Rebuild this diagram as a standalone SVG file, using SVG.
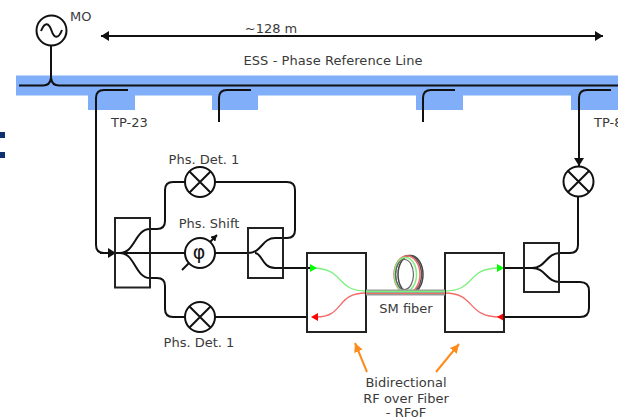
<svg xmlns="http://www.w3.org/2000/svg" width="618" height="419" viewBox="0 0 618 419">
<style>
text{font-family:"DejaVu Sans",sans-serif;font-size:13px;fill:#3a3a3a}
.l{fill:none;stroke:#111;stroke-width:2}
.b{fill:none;stroke:#222;stroke-width:2}
.c{fill:#fff;stroke:#111;stroke-width:2}
.bar{fill:#80aef8}
.g{fill:none;stroke:#7df07d;stroke-width:1.300}
.r{fill:none;stroke:#f46a6a;stroke-width:1.300}
.o{fill:none;stroke:#ff8c1a;stroke-width:2}
</style>
<defs>
<marker id="ak" markerUnits="userSpaceOnUse" markerWidth="9" markerHeight="10" refX="8" refY="5" orient="auto-start-reverse"><path d="M0 0L8 5L0 10Z" fill="#111"/></marker>
<marker id="as" markerUnits="userSpaceOnUse" markerWidth="7" markerHeight="7" refX="6" refY="3.500" orient="auto"><path d="M0 0L6 3.500L0 7Z" fill="#111"/></marker>
<marker id="ao" markerUnits="userSpaceOnUse" markerWidth="10" markerHeight="10" refX="9" refY="5" orient="auto"><path d="M0 0.500L9 5L0 9.500Z" fill="#ff8c1a"/></marker>
</defs>
<rect x="0" y="132" width="5" height="6" fill="#0f2f6e"/>
<rect x="0" y="152" width="5" height="6" fill="#0f2f6e"/>
<g id="phase-line"><rect class="bar" x="16" y="75.500" width="602" height="20"/><rect class="bar" x="88" y="95" width="47" height="15"/><rect class="bar" x="212" y="95" width="46" height="15"/><rect class="bar" x="416" y="95" width="47" height="15"/><rect class="bar" x="571" y="95" width="47" height="15"/><text x="333" y="65" text-anchor="middle" textLength="179">ESS - Phase Reference Line</text></g>
<g id="connectors">
<path class="l" d="M19 85.500H43Q50 85.500 51 78V45M51 78Q52 85.500 59 85.500H618"/>
<path class="l" marker-start="url(#ak)" marker-end="url(#ak)" d="M101 36H603"/>
<path class="l" d="M128 90H104Q96 90 96 98V245Q96 253 104 253"/>
<path class="l" marker-end="url(#ak)" d="M100 253H116"/>
<path class="l" d="M251 90H227Q219 90 219 98V122"/>
<path class="l" d="M455 90H431Q423 90 423 98V122"/>
<path class="l" marker-end="url(#ak)" d="M611 90H587Q579 90 579 98V166"/>
<path class="l" d="M115 253H185M215 253H248C262 253 262 238 275 238H287Q295 238 295 230V190Q295 182 287 182H215M185 182H173Q165 182 165 190V221Q165 229 157 229H150C135 229 135 253 120 253C135 253 135 278 150 278H157Q165 278 165 286V309Q165 317 173 317H185M215 317H307M255 253C262 253 262 268 275 268H310"/>
<path class="l" d="M504 268H532C546 268 546 253 560 253H570Q578 253 578 245V197M532 268C546 268 546 282 560 282H580Q589 282 589 291V308Q589 317 580 317H504"/>
<path class="g" d="M366 291C335 291 345 268 312 268"/>
<path d="M317 268L310 264V272Z" fill="#0f0"/>
<path class="r" d="M366 293C335 293 345 317 316 317"/>
<path d="M311 317L318 313V321Z" fill="#f00"/>
<path class="g" d="M445 291C476 291 466 268 499 268"/>
<path d="M504 268L497 264V272Z" fill="#0f0"/>
<path class="r" d="M445 293C476 293 466 317 500 317"/>
<path d="M497 317L504 313V321Z" fill="#f00"/>
<path class="o" marker-end="url(#ao)" d="M367 372L355 343"/>
<path class="o" marker-end="url(#ao)" d="M436 372L459 344"/>
</g>
<g id="mo"><circle class="c" cx="51.500" cy="30.500" r="15"/><path class="l" d="M41 31C45 21 49 23 51.500 30.500S58 40 62 30"/><text x="70" y="21">MO</text></g>
<g id="tp23"><text x="111" y="127">TP-23</text></g>
<g id="tp8"><text x="594" y="127">TP-8</text></g>
<g id="det-top"><circle class="c" cx="200" cy="182" r="15"/><path class="l" d="M189.500 171.500L210.500 192.500M189.500 192.500L210.500 171.500"/><text x="204" y="164" text-anchor="middle">Phs. Det. 1</text></g>
<g id="det-bottom"><circle class="c" cx="200" cy="317" r="15"/><path class="l" d="M189.500 306.500L210.500 327.500M189.500 327.500L210.500 306.500"/><text x="199" y="347" text-anchor="middle">Phs. Det. 1</text></g>
<g id="det-right"><circle class="c" cx="578.500" cy="181.500" r="15"/><path class="l" d="M568 171L589 192M568 192L589 171"/></g>
<g id="shift"><text x="209" y="228" text-anchor="middle">Phs. Shift</text><path class="l" marker-end="url(#as)" d="M182 270L217 235"/><circle class="c" cx="200" cy="253" r="15"/><text x="199" y="259" text-anchor="middle" style="font-size:19px;fill:#111">φ</text></g>
<g id="splitter-1"><rect class="b" x="115" y="218" width="35" height="69.500"/></g>
<g id="splitter-2"><rect class="b" x="248" y="228" width="35" height="50"/></g>
<g id="splitter-3"><rect class="b" x="524" y="243" width="35" height="49"/></g>
<g id="eo-left"><rect class="b" x="307" y="253" width="59" height="79"/></g>
<g id="eo-right"><rect class="b" x="445" y="253" width="59" height="79"/></g>
<g id="fiber">
<ellipse cx="410.500" cy="274.500" rx="12.500" ry="19" fill="none" stroke="#444" stroke-width="1.500"/>
<ellipse cx="408.500" cy="274.500" rx="13" ry="19" fill="none" stroke="#555" stroke-width="1.500"/>
<ellipse cx="407" cy="274.500" rx="13" ry="18.500" fill="none" stroke="#f46a6a" stroke-width="1.500"/>
<ellipse cx="405.500" cy="274.500" rx="11" ry="17" fill="none" stroke="#7df07d" stroke-width="1.500"/>
<ellipse cx="404.500" cy="274.500" rx="9" ry="15" fill="none" stroke="#666" stroke-width="1.200"/>
<rect x="366" y="289.500" width="79" height="6" fill="#999"/>
<path d="M366 291.500H445" stroke="#7df07d" stroke-width="1.300"/>
<path d="M366 293.500H445" stroke="#e8726a" stroke-width="1"/>
<text x="406" y="313" text-anchor="middle">SM fiber</text></g>
<g id="note"><text x="406" y="387" text-anchor="middle">Bidirectional</text><text x="406" y="403" text-anchor="middle">RF over Fiber</text><text x="406" y="417" text-anchor="middle">- RFoF</text></g>
<text x="271" y="33" text-anchor="middle">~128 m</text>
</svg>
